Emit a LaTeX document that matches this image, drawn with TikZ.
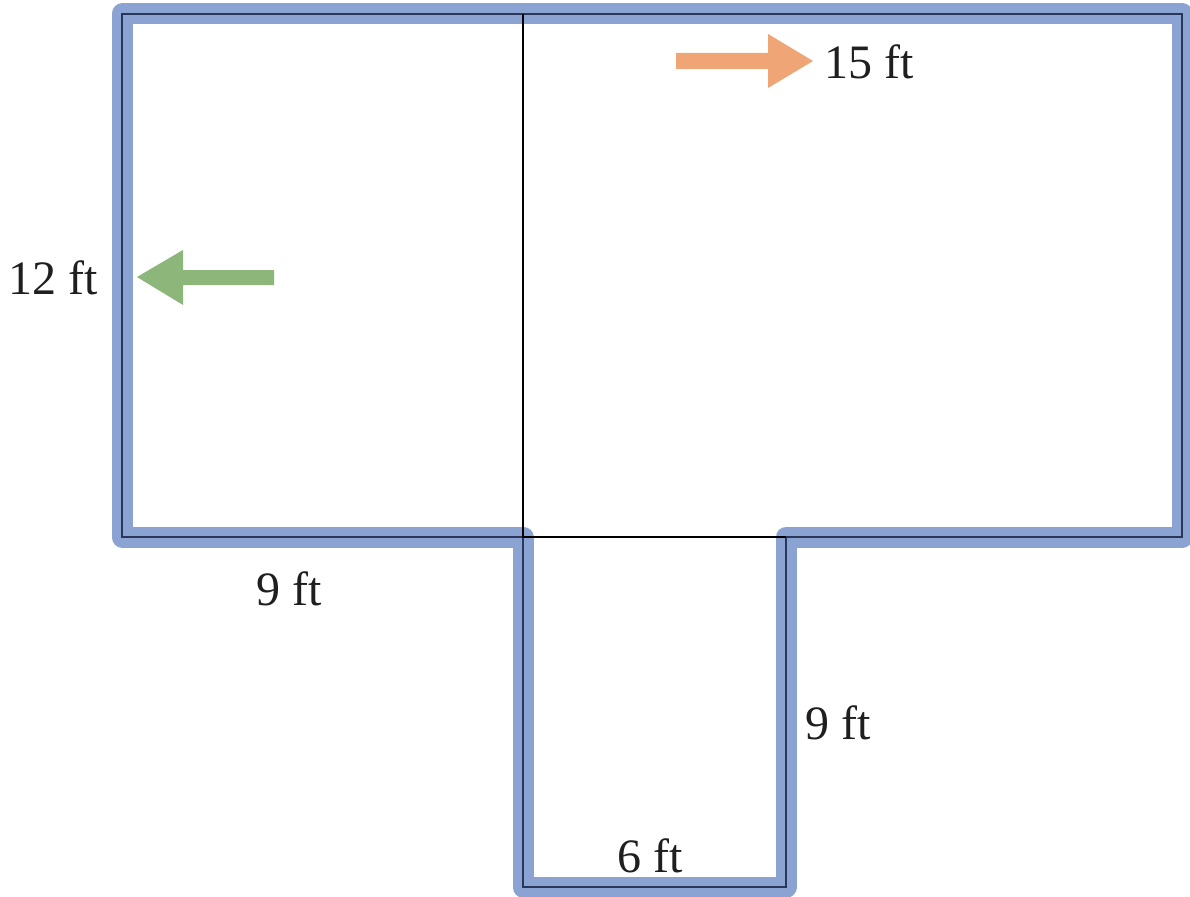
\documentclass[tikz,border=0pt]{standalone}
\usepackage{fontspec}
\setmainfont{Liberation Serif}
\definecolor{wallblue}{RGB}{138,163,211}
\definecolor{wallline}{RGB}{40,55,90}
\definecolor{arrorange}{RGB}{240,165,118}
\definecolor{arrgreen}{RGB}{140,182,122}
\tikzset{
  wall/.style={draw=wallblue,line width=21pt,line join=round,line cap=round},
  wallinner/.style={draw=wallline,line width=2.6pt},
  inner/.style={draw=black,line width=2.8pt},
  dim/.style={font=\fontsize{48}{56}\selectfont,inner sep=0pt,text=black!88}
}
\begin{document}
\begin{tikzpicture}[x=1pt,y=-1pt]
\useasboundingbox (0,0) rectangle (1190,896);
\fill[white] (0,0) rectangle (1190,896);
\coordinate (A) at (122,14);
\coordinate (B) at (1182,14);
\coordinate (C) at (1182,537);
\coordinate (D) at (786,537);
\coordinate (E) at (786,887);
\coordinate (F) at (523,887);
\coordinate (G) at (523,537);
\coordinate (H) at (122,537);
\coordinate (M) at (523,14);
\draw[wall] (A) -- (B) -- (C) -- (D) -- (E) -- (F) -- (G) -- (H) -- cycle;
\draw[wallinner] (A) -- (B) -- (C) -- (D) -- (E) -- (F) -- (G) -- (H) -- cycle;
\draw[inner] (M) -- (G) -- (D);
% orange arrow
\fill[arrorange] (676,53) -- (768,53) -- (768,34) -- (813,61) -- (768,88) -- (768,69) -- (676,69) -- cycle;
% green arrow
\fill[arrgreen] (274,270) -- (183,270) -- (183,250) -- (137,277) -- (183,305) -- (183,285) -- (274,285) -- cycle;
\node[dim] (t15) at (869,62) {15 ft};
\node[dim] (t12) at (53,278) {12 ft};
\node[dim] (t9a) at (289,589) {9 ft};
\node[dim] (t9b) at (838,723) {9 ft};
\node[dim] (t6) at (650,856) {6 ft};
\end{tikzpicture}
\end{document}
